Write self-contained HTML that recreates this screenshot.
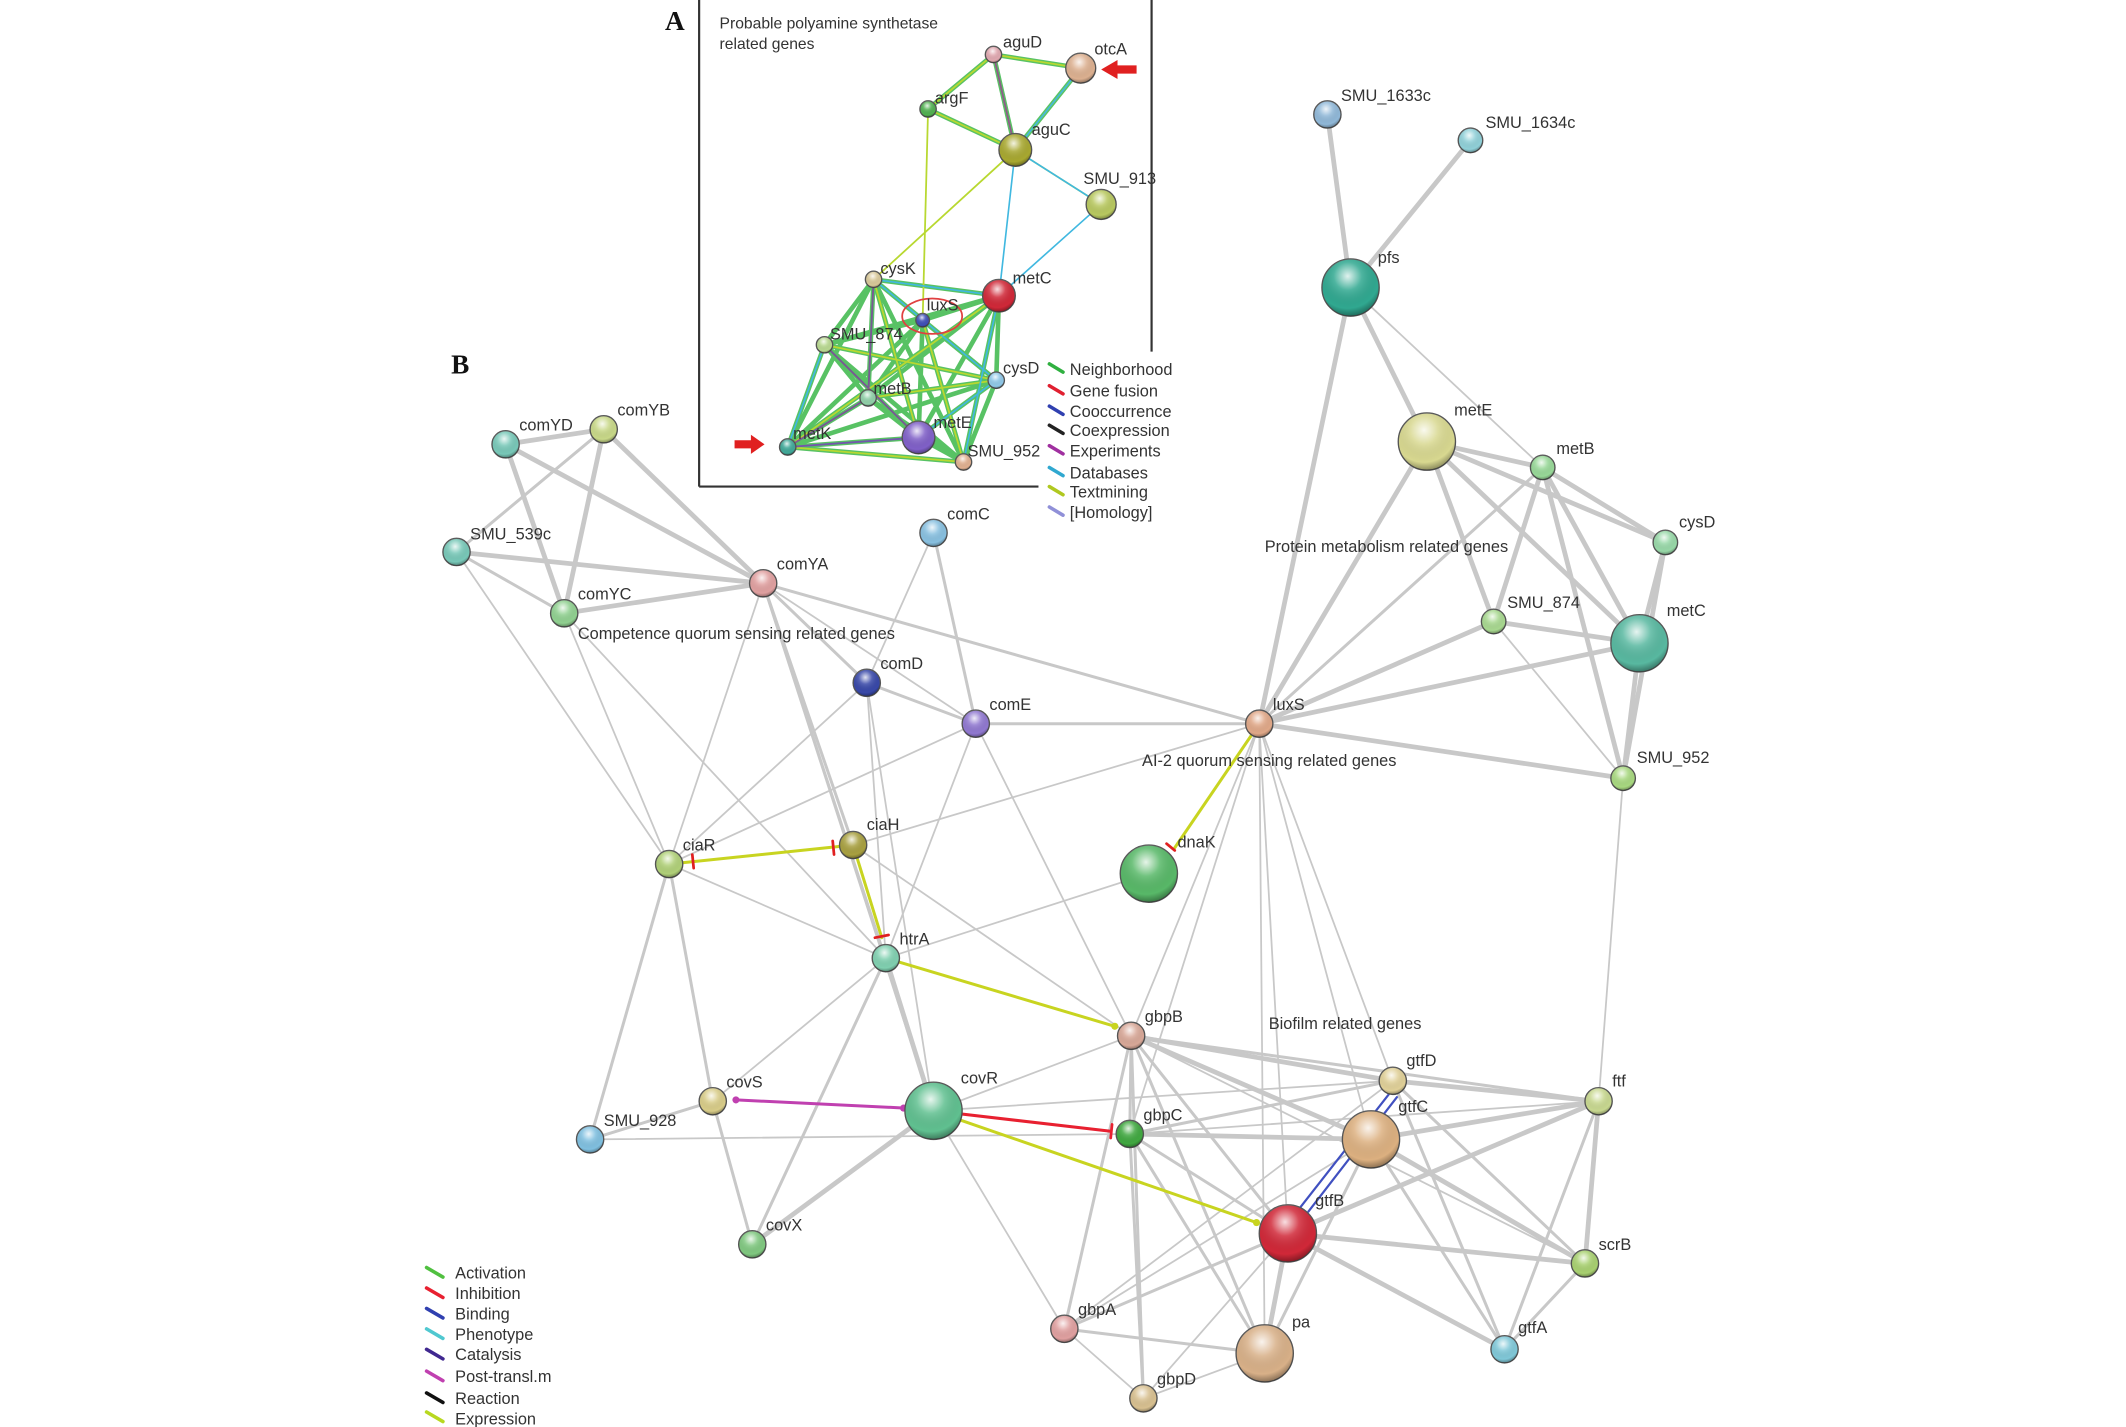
<!DOCTYPE html>
<html><head><meta charset="utf-8"><style>
html,body{margin:0;padding:0;background:#fff;}
svg{display:block;}
text{font-family:"Liberation Sans",sans-serif;font-size:12px;fill:#333;}
.g line{stroke:#c8c8c8;stroke-linecap:round;}
</style></head><body>
<svg width="2126" height="1427" viewBox="0 0 1560 1047" preserveAspectRatio="none" xmlns="http://www.w3.org/2000/svg">
<defs>
<radialGradient id="hl" cx="0.45" cy="0.3" r="0.7">
<stop offset="0" stop-color="#fff" stop-opacity="0.85"/>
<stop offset="0.35" stop-color="#fff" stop-opacity="0.15"/>
<stop offset="0.8" stop-color="#000" stop-opacity="0"/>
<stop offset="1" stop-color="#000" stop-opacity="0.35"/>
</radialGradient>
</defs>
<rect width="1560" height="1047" fill="#fff"/>

<!-- inset box -->
<line x1="513" y1="0" x2="513" y2="357" stroke="#333" stroke-width="1.6"/>
<line x1="513" y1="357" x2="762" y2="357" stroke="#333" stroke-width="1.6"/>
<line x1="845" y1="0" x2="845" y2="258" stroke="#333" stroke-width="1.6"/>
<text x="488" y="22" style="font-family:'Liberation Serif',serif;font-size:20px;font-weight:bold;fill:#111">A</text>
<text x="331" y="274" style="font-family:'Liberation Serif',serif;font-size:20px;font-weight:bold;fill:#111">B</text>
<text x="528" y="21" style="font-size:11.5px">Probable polyamine synthetase</text>
<text x="528" y="36" style="font-size:11.5px">related genes</text>

<!-- inset edges -->
<g stroke-linecap="round" fill="none">
<g stroke="#3cb84a" stroke-width="3.4" opacity="0.85">
<line x1="729" y1="40" x2="793" y2="50"/><line x1="729" y1="40" x2="681" y2="80"/><line x1="729" y1="40" x2="745" y2="110"/>
<line x1="793" y1="50" x2="745" y2="110"/><line x1="681" y1="80" x2="745" y2="110"/>
<line x1="641" y1="205" x2="733" y2="217"/><line x1="641" y1="205" x2="605" y2="253"/><line x1="641" y1="205" x2="637" y2="292"/><line x1="641" y1="205" x2="674" y2="321"/><line x1="641" y1="205" x2="731" y2="279"/><line x1="641" y1="205" x2="578" y2="328"/><line x1="641" y1="205" x2="707" y2="339"/>
<line x1="677" y1="235" x2="733" y2="217"/><line x1="677" y1="235" x2="605" y2="253"/><line x1="677" y1="235" x2="637" y2="292"/><line x1="677" y1="235" x2="674" y2="321"/><line x1="677" y1="235" x2="731" y2="279"/><line x1="677" y1="235" x2="578" y2="328"/><line x1="677" y1="235" x2="707" y2="339"/>
<line x1="733" y1="217" x2="605" y2="253"/><line x1="733" y1="217" x2="637" y2="292"/><line x1="733" y1="217" x2="674" y2="321"/><line x1="733" y1="217" x2="731" y2="279"/><line x1="733" y1="217" x2="578" y2="328"/><line x1="733" y1="217" x2="707" y2="339"/>
<line x1="605" y1="253" x2="637" y2="292"/><line x1="605" y1="253" x2="674" y2="321"/><line x1="605" y1="253" x2="731" y2="279"/><line x1="605" y1="253" x2="578" y2="328"/><line x1="605" y1="253" x2="707" y2="339"/>
<line x1="637" y1="292" x2="674" y2="321"/><line x1="637" y1="292" x2="731" y2="279"/><line x1="637" y1="292" x2="578" y2="328"/><line x1="637" y1="292" x2="707" y2="339"/>
<line x1="674" y1="321" x2="731" y2="279"/><line x1="674" y1="321" x2="578" y2="328"/><line x1="674" y1="321" x2="707" y2="339"/>
<line x1="731" y1="279" x2="707" y2="339"/><line x1="578" y1="328" x2="707" y2="339"/><line x1="578" y1="328" x2="731" y2="279"/>
</g>
<g stroke="#b8d830" stroke-width="1.3">
<line x1="729" y1="40" x2="793" y2="50"/><line x1="729" y1="40" x2="681" y2="80"/><line x1="729" y1="40" x2="745" y2="110"/>
<line x1="793" y1="50" x2="745" y2="110"/><line x1="681" y1="80" x2="745" y2="110"/>
<line x1="681" y1="80" x2="677" y2="235"/><line x1="745" y1="110" x2="641" y2="205"/><line x1="745" y1="110" x2="808" y2="150"/>
<line x1="641" y1="205" x2="674" y2="321"/><line x1="605" y1="253" x2="731" y2="279"/><line x1="733" y1="217" x2="578" y2="328"/><line x1="578" y1="328" x2="707" y2="339"/><line x1="637" y1="292" x2="731" y2="279"/><line x1="677" y1="235" x2="707" y2="339"/>
</g>
<g stroke="#40b8e0" stroke-width="1.2">
<line x1="745" y1="110" x2="733" y2="217"/><line x1="745" y1="110" x2="808" y2="150"/><line x1="808" y1="150" x2="733" y2="217"/>
<line x1="793" y1="50" x2="745" y2="110"/>
<line x1="605" y1="253" x2="578" y2="328"/><line x1="641" y1="205" x2="733" y2="217"/><line x1="733" y1="217" x2="707" y2="339"/><line x1="674" y1="321" x2="578" y2="328"/><line x1="731" y1="279" x2="674" y2="321"/><line x1="641" y1="205" x2="731" y2="279"/>
</g>
<g stroke="#8040a0" stroke-width="1.4" opacity="0.8">
<line x1="729" y1="40" x2="745" y2="110"/><line x1="605" y1="253" x2="674" y2="321"/><line x1="637" y1="292" x2="578" y2="328"/><line x1="578" y1="328" x2="674" y2="321"/><line x1="641" y1="205" x2="637" y2="292"/>
</g>
</g>
<ellipse cx="684" cy="232" rx="22" ry="13" fill="none" stroke="#e04040" stroke-width="1.3"/>
<!-- red arrows -->
<polygon points="808,48 822,48 822,44 834,51 822,58 822,54 808,54" fill="#e02020" transform="rotate(180 821 51)"/>
<polygon points="539,323 551,323 551,319 561,326 551,333 551,329 539,329" fill="#e02020"/>

<!-- inset legend -->
<g stroke-width="2.6" stroke-linecap="round">
<line x1="770" y1="267" x2="780" y2="273" stroke="#30b040"/>
<line x1="770" y1="283" x2="780" y2="289" stroke="#e02030"/>
<line x1="770" y1="298" x2="780" y2="304" stroke="#3040b0"/>
<line x1="770" y1="312" x2="780" y2="318" stroke="#222"/>
<line x1="770" y1="327" x2="780" y2="333" stroke="#a030a0"/>
<line x1="770" y1="343" x2="780" y2="349" stroke="#30a8d0"/>
<line x1="770" y1="357" x2="780" y2="363" stroke="#b0c820"/>
<line x1="770" y1="372" x2="780" y2="378" stroke="#9090d8"/>
</g>
<g style="font-size:11.5px">
<text x="785" y="275">Neighborhood</text><text x="785" y="291">Gene fusion</text><text x="785" y="306">Cooccurrence</text><text x="785" y="320">Coexpression</text><text x="785" y="335">Experiments</text><text x="785" y="351">Databases</text><text x="785" y="365">Textmining</text><text x="785" y="380">[Homology]</text>
</g>

<!-- main gray edges -->
<g class="g">
<g stroke-width="3.5">
<line x1="371" y1="326" x2="443" y2="315"/><line x1="371" y1="326" x2="414" y2="450"/><line x1="371" y1="326" x2="560" y2="428"/>
<line x1="443" y1="315" x2="414" y2="450"/><line x1="443" y1="315" x2="560" y2="428"/><line x1="335" y1="405" x2="560" y2="428"/><line x1="414" y1="450" x2="560" y2="428"/>
<line x1="974" y1="84" x2="991" y2="211"/><line x1="1079" y1="103" x2="991" y2="211"/><line x1="924" y1="531" x2="991" y2="211"/>
<line x1="991" y1="211" x2="1047" y2="324"/><line x1="1047" y1="324" x2="1132" y2="343"/><line x1="1047" y1="324" x2="1222" y2="398"/><line x1="1047" y1="324" x2="1096" y2="456"/><line x1="1047" y1="324" x2="1203" y2="472"/>
<line x1="1132" y1="343" x2="1222" y2="398"/><line x1="1132" y1="343" x2="1096" y2="456"/><line x1="1132" y1="343" x2="1203" y2="472"/><line x1="1132" y1="343" x2="1191" y2="571"/>
<line x1="1222" y1="398" x2="1203" y2="472"/><line x1="1096" y1="456" x2="1203" y2="472"/><line x1="1203" y1="472" x2="1191" y2="571"/><line x1="1222" y1="398" x2="1191" y2="571"/>
<line x1="924" y1="531" x2="1047" y2="324"/><line x1="924" y1="531" x2="1096" y2="456"/><line x1="924" y1="531" x2="1203" y2="472"/><line x1="924" y1="531" x2="1191" y2="571"/>
<line x1="650" y1="703" x2="685" y2="815"/><line x1="685" y1="815" x2="552" y2="913"/>
<line x1="830" y1="760" x2="1022" y2="793"/><line x1="830" y1="760" x2="1006" y2="836"/><line x1="829" y1="832" x2="1006" y2="836"/>
<line x1="1022" y1="793" x2="1173" y2="808"/><line x1="1006" y1="836" x2="1173" y2="808"/><line x1="945" y1="905" x2="1173" y2="808"/><line x1="945" y1="905" x2="1163" y2="927"/>
<line x1="1006" y1="836" x2="1163" y2="927"/><line x1="945" y1="905" x2="1104" y2="990"/><line x1="945" y1="905" x2="928" y2="993"/><line x1="1173" y1="808" x2="1163" y2="927"/>
</g>
<g stroke-width="2.2">
<line x1="371" y1="326" x2="443" y2="315" stroke-width="3"/><line x1="443" y1="315" x2="335" y2="405"/><line x1="335" y1="405" x2="414" y2="450"/>
<line x1="560" y1="428" x2="924" y2="531"/><line x1="560" y1="428" x2="626" y2="620"/><line x1="560" y1="428" x2="636" y2="501"/><line x1="560" y1="428" x2="685" y2="815"/>
<line x1="685" y1="391" x2="716" y2="531"/><line x1="636" y1="501" x2="716" y2="531"/><line x1="716" y1="531" x2="924" y2="531"/>
<line x1="491" y1="634" x2="433" y2="836"/><line x1="491" y1="634" x2="523" y2="808"/><line x1="523" y1="808" x2="552" y2="913"/>
<line x1="650" y1="703" x2="552" y2="913"/><line x1="685" y1="815" x2="552" y2="913"/><line x1="433" y1="836" x2="523" y2="808"/>
<line x1="924" y1="531" x2="1191" y2="571"/><line x1="924" y1="531" x2="1132" y2="343"/>
<line x1="830" y1="760" x2="829" y2="832"/><line x1="830" y1="760" x2="945" y2="905"/><line x1="830" y1="760" x2="1173" y2="808"/><line x1="830" y1="760" x2="928" y2="993"/><line x1="830" y1="760" x2="839" y2="1026"/><line x1="830" y1="760" x2="781" y2="975"/>
<line x1="829" y1="832" x2="1022" y2="793"/><line x1="829" y1="832" x2="945" y2="905"/><line x1="829" y1="832" x2="928" y2="993"/><line x1="829" y1="832" x2="839" y2="1026"/>
<line x1="1022" y1="793" x2="1163" y2="927"/><line x1="1006" y1="836" x2="1104" y2="990"/><line x1="1006" y1="836" x2="928" y2="993"/><line x1="1173" y1="808" x2="1104" y2="990"/><line x1="1163" y1="927" x2="1104" y2="990"/>
<line x1="1022" y1="793" x2="1104" y2="990"/><line x1="781" y1="975" x2="928" y2="993"/><line x1="945" y1="905" x2="781" y2="975"/>
</g>
<g stroke-width="1.3" stroke="#d8d8d8">
<line x1="991" y1="211" x2="1132" y2="343"/><line x1="1096" y1="456" x2="1191" y2="571"/><line x1="1191" y1="571" x2="1173" y2="808"/>
<line x1="414" y1="450" x2="491" y2="634"/><line x1="414" y1="450" x2="650" y2="703"/><line x1="335" y1="405" x2="491" y2="634"/><line x1="443" y1="315" x2="560" y2="428"/>
<line x1="685" y1="391" x2="636" y2="501"/><line x1="636" y1="501" x2="491" y2="634"/><line x1="636" y1="501" x2="685" y2="815"/><line x1="636" y1="501" x2="650" y2="703"/>
<line x1="716" y1="531" x2="650" y2="703"/><line x1="716" y1="531" x2="830" y2="760"/><line x1="491" y1="634" x2="716" y2="531"/><line x1="491" y1="634" x2="650" y2="703"/>
<line x1="626" y1="620" x2="924" y2="531"/><line x1="626" y1="620" x2="830" y2="760"/><line x1="650" y1="703" x2="843" y2="641"/><line x1="650" y1="703" x2="523" y2="808"/>
<line x1="560" y1="428" x2="716" y2="531"/><line x1="560" y1="428" x2="491" y2="634"/><line x1="560" y1="428" x2="650" y2="703"/>
<line x1="924" y1="531" x2="830" y2="760"/><line x1="924" y1="531" x2="829" y2="832"/><line x1="924" y1="531" x2="945" y2="905"/><line x1="924" y1="531" x2="1006" y2="836"/><line x1="924" y1="531" x2="1022" y2="793"/><line x1="924" y1="531" x2="928" y2="993"/>
<line x1="433" y1="836" x2="829" y2="832"/><line x1="685" y1="815" x2="830" y2="760"/><line x1="685" y1="815" x2="1022" y2="793"/><line x1="685" y1="815" x2="781" y2="975"/><line x1="685" y1="815" x2="945" y2="905"/>
<line x1="781" y1="975" x2="1006" y2="836"/><line x1="781" y1="975" x2="1022" y2="793"/><line x1="781" y1="975" x2="839" y2="1026"/><line x1="839" y1="1026" x2="928" y2="993"/><line x1="839" y1="1026" x2="945" y2="905"/>
<line x1="829" y1="832" x2="1173" y2="808"/><line x1="830" y1="760" x2="1163" y2="927"/>
</g>
</g>

<!-- colored interaction edges -->
<g stroke-linecap="round" fill="none">
<line x1="491" y1="634" x2="626" y2="620" stroke="#c8d420" stroke-width="2.2"/>
<line x1="508" y1="627" x2="509" y2="637" stroke="#e02020" stroke-width="2"/>
<line x1="611" y1="617" x2="612" y2="627" stroke="#e02020" stroke-width="2"/>
<line x1="626" y1="620" x2="647" y2="688" stroke="#c8d420" stroke-width="2.2"/>
<line x1="642" y1="688" x2="652" y2="686" stroke="#e02020" stroke-width="2"/>
<line x1="650" y1="703" x2="818" y2="753" stroke="#c8d420" stroke-width="2.2"/>
<circle cx="818" cy="753" r="2.6" fill="#c8d420"/>
<line x1="924" y1="531" x2="862" y2="622" stroke="#c8d420" stroke-width="2.2"/>
<line x1="856" y1="619" x2="862" y2="624" stroke="#e02020" stroke-width="2"/>
<line x1="540" y1="807" x2="664" y2="813" stroke="#c040b0" stroke-width="2.2"/>
<circle cx="540" cy="807" r="2.6" fill="#c040b0"/><circle cx="663" cy="813" r="2.6" fill="#c040b0"/>
<line x1="685" y1="815" x2="815" y2="830" stroke="#e82030" stroke-width="2.2"/>
<line x1="816" y1="825" x2="815" y2="835" stroke="#e82030" stroke-width="2"/>
<line x1="685" y1="815" x2="922" y2="897" stroke="#c8d420" stroke-width="2.2"/>
<circle cx="922" cy="897" r="2.6" fill="#c8d420"/>
<line x1="1019" y1="803" x2="954" y2="886" stroke="#4050c0" stroke-width="1.6"/>
<line x1="1025" y1="805" x2="960" y2="889" stroke="#4050c0" stroke-width="1.6"/>
</g>

<!-- nodes -->
<g stroke="#555" stroke-width="1">
<!-- inset -->
<circle cx="729" cy="40" r="6" fill="#e0a8b0"/><circle cx="793" cy="50" r="11" fill="#dcb090"/>
<circle cx="681" cy="80" r="6" fill="#50b050"/><circle cx="745" cy="110" r="12" fill="#a8a830"/>
<circle cx="808" cy="150" r="11" fill="#b8c860"/><circle cx="641" cy="205" r="6" fill="#d8c898"/>
<circle cx="677" cy="235" r="5" fill="#4050b8"/><circle cx="733" cy="217" r="12" fill="#d02838"/>
<circle cx="605" cy="253" r="6" fill="#b8d890"/><circle cx="731" cy="279" r="6" fill="#90c8e8"/>
<circle cx="637" cy="292" r="6" fill="#90d0a8"/><circle cx="674" cy="321" r="12" fill="#8060c8"/>
<circle cx="578" cy="328" r="6" fill="#40a898"/><circle cx="707" cy="339" r="6" fill="#e0b090"/>
<!-- main -->
<circle cx="974" cy="84" r="10" fill="#90b8d8"/><circle cx="1079" cy="103" r="9" fill="#90d0d8"/>
<circle cx="991" cy="211" r="21" fill="#30a890"/><circle cx="1047" cy="324" r="21" fill="#d8d890"/>
<circle cx="1132" cy="343" r="9" fill="#98d898"/><circle cx="1222" cy="398" r="9" fill="#98d8a8"/>
<circle cx="1096" cy="456" r="9" fill="#a8d890"/><circle cx="1203" cy="472" r="21" fill="#58b8a0"/>
<circle cx="1191" cy="571" r="9" fill="#a8d880"/><circle cx="924" cy="531" r="10" fill="#e0a888"/>
<circle cx="843" cy="641" r="21" fill="#58b868"/><circle cx="685" cy="391" r="10" fill="#88c0e0"/>
<circle cx="371" cy="326" r="10" fill="#78c8b8"/><circle cx="443" cy="315" r="10" fill="#c8d888"/>
<circle cx="335" cy="405" r="10" fill="#78c8b8"/><circle cx="414" cy="450" r="10" fill="#90d090"/>
<circle cx="560" cy="428" r="10" fill="#e0a0a0"/><circle cx="636" cy="501" r="10" fill="#3848a8"/>
<circle cx="716" cy="531" r="10" fill="#9078d0"/><circle cx="491" cy="634" r="10" fill="#b0d078"/>
<circle cx="626" cy="620" r="10" fill="#a8a040"/><circle cx="650" cy="703" r="10" fill="#80d0b0"/>
<circle cx="830" cy="760" r="10" fill="#d8a898"/><circle cx="523" cy="808" r="10" fill="#d8cc88"/>
<circle cx="685" cy="815" r="21" fill="#60c090"/><circle cx="829" cy="832" r="10" fill="#40a840"/>
<circle cx="433" cy="836" r="10" fill="#80c0e0"/><circle cx="552" cy="913" r="10" fill="#80c880"/>
<circle cx="1022" cy="793" r="10" fill="#e0d098"/><circle cx="1006" cy="836" r="21" fill="#dcb080"/>
<circle cx="1173" cy="808" r="10" fill="#c8d890"/><circle cx="945" cy="905" r="21" fill="#d02838"/>
<circle cx="1163" cy="927" r="10" fill="#a8d070"/><circle cx="781" cy="975" r="10" fill="#e0a0a0"/>
<circle cx="928" cy="993" r="21" fill="#d8b088"/><circle cx="1104" cy="990" r="10" fill="#80c8d8"/>
<circle cx="839" cy="1026" r="10" fill="#d8c090"/>
</g>
<g fill="url(#hl)">
<circle cx="729" cy="40" r="6"/><circle cx="793" cy="50" r="11"/><circle cx="681" cy="80" r="6"/><circle cx="745" cy="110" r="12"/><circle cx="808" cy="150" r="11"/><circle cx="641" cy="205" r="6"/><circle cx="677" cy="235" r="5"/><circle cx="733" cy="217" r="12"/><circle cx="605" cy="253" r="6"/><circle cx="731" cy="279" r="6"/><circle cx="637" cy="292" r="6"/><circle cx="674" cy="321" r="12"/><circle cx="578" cy="328" r="6"/><circle cx="707" cy="339" r="6"/>
<circle cx="974" cy="84" r="10"/><circle cx="1079" cy="103" r="9"/><circle cx="991" cy="211" r="21"/><circle cx="1047" cy="324" r="21"/><circle cx="1132" cy="343" r="9"/><circle cx="1222" cy="398" r="9"/><circle cx="1096" cy="456" r="9"/><circle cx="1203" cy="472" r="21"/><circle cx="1191" cy="571" r="9"/><circle cx="924" cy="531" r="10"/><circle cx="843" cy="641" r="21"/><circle cx="685" cy="391" r="10"/><circle cx="371" cy="326" r="10"/><circle cx="443" cy="315" r="10"/><circle cx="335" cy="405" r="10"/><circle cx="414" cy="450" r="10"/><circle cx="560" cy="428" r="10"/><circle cx="636" cy="501" r="10"/><circle cx="716" cy="531" r="10"/><circle cx="491" cy="634" r="10"/><circle cx="626" cy="620" r="10"/><circle cx="650" cy="703" r="10"/><circle cx="830" cy="760" r="10"/><circle cx="523" cy="808" r="10"/><circle cx="685" cy="815" r="21"/><circle cx="829" cy="832" r="10"/><circle cx="433" cy="836" r="10"/><circle cx="552" cy="913" r="10"/><circle cx="1022" cy="793" r="10"/><circle cx="1006" cy="836" r="21"/><circle cx="1173" cy="808" r="10"/><circle cx="945" cy="905" r="21"/><circle cx="1163" cy="927" r="10"/><circle cx="781" cy="975" r="10"/><circle cx="928" cy="993" r="21"/><circle cx="1104" cy="990" r="10"/><circle cx="839" cy="1026" r="10"/>
</g>

<!-- inset labels -->
<g style="font-size:11.5px">
<text x="736" y="35">aguD</text><text x="803" y="40">otcA</text><text x="686" y="76">argF</text><text x="757" y="99">aguC</text>
<text x="795" y="135">SMU_913</text><text x="646" y="201">cysK</text><text x="680" y="228">luxS</text><text x="743" y="208">metC</text>
<text x="609" y="249">SMU_874</text><text x="736" y="274">cysD</text><text x="641" y="289">metB</text><text x="685" y="314">metE</text>
<text x="582" y="322">metK</text><text x="710" y="335">SMU_952</text>
</g>
<!-- main labels -->
<g>
<text x="984" y="74">SMU_1633c</text><text x="1090" y="94">SMU_1634c</text><text x="1011" y="193">pfs</text>
<text x="1067" y="305">metE</text><text x="1142" y="333">metB</text><text x="1232" y="387">cysD</text>
<text x="1106" y="446">SMU_874</text><text x="1223" y="452">metC</text><text x="1201" y="560">SMU_952</text>
<text x="934" y="521">luxS</text><text x="864" y="622">dnaK</text><text x="695" y="381">comC</text>
<text x="381" y="316">comYD</text><text x="453" y="305">comYB</text><text x="345" y="396">SMU_539c</text>
<text x="424" y="440">comYC</text><text x="570" y="418">comYA</text><text x="646" y="491">comD</text>
<text x="726" y="521">comE</text><text x="501" y="624">ciaR</text><text x="636" y="609">ciaH</text>
<text x="660" y="693">htrA</text><text x="840" y="750">gbpB</text><text x="533" y="798">covS</text>
<text x="705" y="795">covR</text><text x="839" y="822">gbpC</text><text x="443" y="826">SMU_928</text>
<text x="562" y="903">covX</text><text x="1032" y="782">gtfD</text><text x="1026" y="816">gtfC</text>
<text x="1183" y="797">ftf</text><text x="965" y="885">gtfB</text><text x="1173" y="917">scrB</text>
<text x="791" y="965">gbpA</text><text x="948" y="974">pa</text><text x="1114" y="978">gtfA</text>
<text x="849" y="1016">gbpD</text>
<text x="928" y="405">Protein metabolism related genes</text>
<text x="424" y="469">Competence quorum sensing related genes</text>
<text x="838" y="562">AI-2 quorum sensing related genes</text>
<text x="931" y="755">Biofilm related genes</text>
</g>

<!-- bottom legend -->
<g stroke-width="2.6" stroke-linecap="round">
<line x1="313" y1="930" x2="325" y2="937" stroke="#50c040"/>
<line x1="313" y1="945" x2="325" y2="952" stroke="#e82030"/>
<line x1="313" y1="960" x2="325" y2="967" stroke="#3040b0"/>
<line x1="313" y1="975" x2="325" y2="982" stroke="#50c8d0"/>
<line x1="313" y1="990" x2="325" y2="997" stroke="#402890"/>
<line x1="313" y1="1006" x2="325" y2="1013" stroke="#c040b0"/>
<line x1="313" y1="1022" x2="325" y2="1029" stroke="#111"/>
<line x1="313" y1="1036" x2="325" y2="1043" stroke="#b8d820"/>
</g>
<g style="font-size:11.5px">
<text x="334" y="938">Activation</text><text x="334" y="953">Inhibition</text><text x="334" y="968">Binding</text><text x="334" y="983">Phenotype</text>
<text x="334" y="998">Catalysis</text><text x="334" y="1014">Post-transl.m</text><text x="334" y="1030">Reaction</text><text x="334" y="1045">Expression</text>
</g>
</svg>
</body></html>
